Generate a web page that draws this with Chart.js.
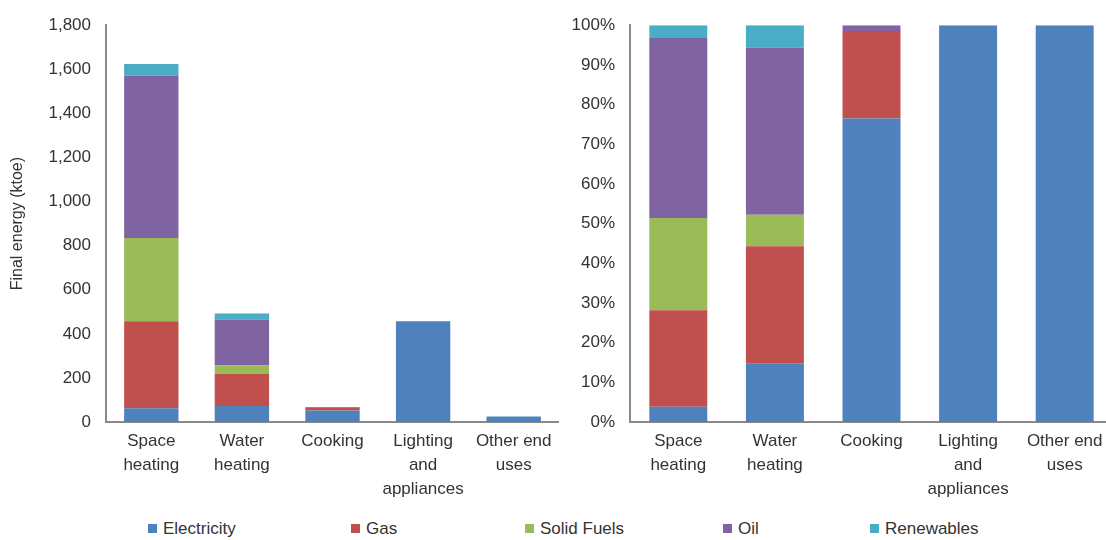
<!DOCTYPE html>
<html>
<head>
<meta charset="utf-8">
<script src="https://cdn.jsdelivr.net/npm/chart.js@4.4.1/dist/chart.umd.min.js"></script>
<style>
  html, body { margin: 0; padding: 0; background: #ffffff; overflow: hidden; }
  #wrap { position: relative; width: 1106px; height: 540px; overflow: hidden; }
  canvas { position: absolute; top: 0; }
  #absChart { left: 0; }
  #shareChart { left: 560px; }
  .legend { position: absolute; top: 518px; font-family: "Liberation Sans", Arial, sans-serif;
            font-size: 17px; color: #333333; white-space: nowrap; line-height: 22px; }
  .legend span.box { display: inline-block; width: 9px; height: 9px; margin-right: 6px; vertical-align: 1px; }
</style>
</head>
<body>
<div id="wrap">
  <canvas id="absChart" width="559" height="510"></canvas>
  <canvas id="shareChart" width="553" height="510"></canvas>
  <div id="legend"></div>
</div>
<script>
// End uses and final energy by fuel (ktoe)
const categories = [
  ["Space", "heating"],
  ["Water", "heating"],
  "Cooking",
  ["Lighting", "and", "appliances"],
  ["Other end", "uses"]
];
const fuelNames = ["Electricity", "Gas", "Solid Fuels", "Oil", "Renewables"];
const fuelColors = ["#4F81BD", "#C0504D", "#9BBB59", "#8064A2", "#4BACC6"];

const electricity = [62, 73, 52, 457, 25];
const gas         = [395, 145, 15, 0, 0];
const solidFuels  = [378, 39, 0, 0, 0];
const oil         = [737, 207, 1, 0, 0];
const renewables  = [52, 28, 0, 0, 0];

const leftTicks = [0, 200, 400, 600, 800, 1000, 1200, 1400, 1600, 1800];
const rightTicks = [0, 10, 20, 30, 40, 50, 60, 70, 80, 90, 100];

const fuelSeries = [electricity, gas, solidFuels, oil, renewables];

// Totals per end use, used for the percentage split
const totals = categories.map((_, i) => fuelSeries.reduce((s, arr) => s + arr[i], 0));
const shareSeries = fuelSeries.map(arr => arr.map((v, i) => totals[i] ? v / totals[i] * 100 : 0));

const FONT = "'Liberation Sans', Arial, sans-serif";
const TEXT = "#333333";
const AXIS = "#8a8a8a";

Chart.defaults.font.family = FONT;
Chart.defaults.color = TEXT;

function makeDatasets(seriesList) {
  return seriesList.map((data, k) => ({
    label: fuelNames[k],
    data: data,
    backgroundColor: fuelColors[k],
    borderWidth: 0,
    barPercentage: 0.6,
    categoryPercentage: 1.0
  }));
}

function baseOptions(yWidth, yConf) {
  return {
    responsive: false,
    animation: false,
    devicePixelRatio: 1,
    layout: { padding: { top: 25, right: 0, bottom: 0, left: 0 } },
    plugins: { legend: { display: false }, tooltip: { enabled: false } },
    scales: {
      x: {
        stacked: true,
        grid: { display: false, drawTicks: false },
        border: { display: true, color: AXIS, width: 2 },
        ticks: { font: { size: 17, family: FONT, lineHeight: 1.42 }, color: TEXT, padding: 7, maxRotation: 0, autoSkip: false },
        afterFit: s => { s.height = 88; }
      },
      y: Object.assign({
        stacked: true,
        grid: { display: false, drawTicks: false },
        border: { display: true, color: AXIS, width: 2 },
        afterFit: s => { s.width = yWidth; }
      }, yConf)
    }
  };
}

// Absolute values
const absOpts = baseOptions(106, {
  min: 0, max: leftTicks[leftTicks.length - 1],
  afterBuildTicks: s => { s.ticks = leftTicks.map(v => ({ value: v })); },
  ticks: {
    font: { size: 17, family: FONT }, color: TEXT, padding: 15,
    callback: v => v.toLocaleString("en-US")
  },
  title: {
    display: true, text: "Final energy (ktoe)",
    font: { size: 16, family: FONT }, color: TEXT,
    padding: { top: 8, bottom: 0 }
  }
});
new Chart(document.getElementById("absChart"), {
  type: "bar",
  data: { labels: categories, datasets: makeDatasets(fuelSeries) },
  options: absOpts
});

// Share of each fuel
const shareOpts = baseOptions(70, {
  min: 0, max: 100,
  afterBuildTicks: s => { s.ticks = rightTicks.map(v => ({ value: v })); },
  ticks: {
    font: { size: 17, family: FONT }, color: TEXT, padding: 15,
    callback: v => v + "%"
  }
});
new Chart(document.getElementById("shareChart"), {
  type: "bar",
  data: { labels: categories, datasets: makeDatasets(shareSeries) },
  options: shareOpts
});

// Shared legend row
const legendX = [148, 351, 525, 723, 870];
const legend = document.getElementById("legend");
fuelNames.forEach((name, k) => {
  const item = document.createElement("div");
  item.className = "legend";
  item.style.left = legendX[k] + "px";
  const box = document.createElement("span");
  box.className = "box";
  box.style.background = fuelColors[k];
  item.appendChild(box);
  item.appendChild(document.createTextNode(name));
  legend.appendChild(item);
});
</script>
</body>
</html>
